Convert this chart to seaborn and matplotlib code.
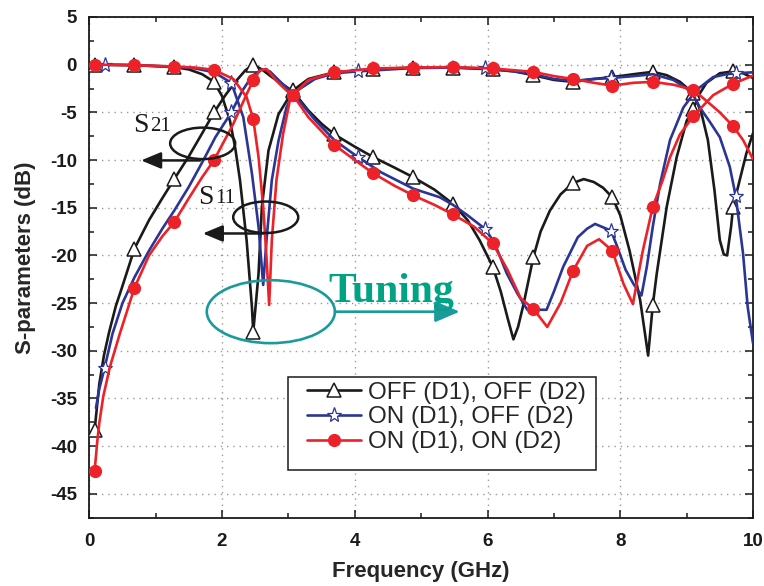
import matplotlib
matplotlib.use("Agg")
import matplotlib.pyplot as plt
import numpy as np
import pandas as pd
import seaborn as sns
from matplotlib.lines import Line2D
from matplotlib.patches import Ellipse, Rectangle
from matplotlib.ticker import MultipleLocator

# ---------------------------------------------------------------------------
# Data (frequency in GHz, level in dB)
# ---------------------------------------------------------------------------
states = ["OFF (D1), OFF (D2)", "ON (D1), OFF (D2)", "ON (D1), ON (D2)"]

# OFF (D1), OFF (D2)
off_off_s21_f = [0.08, 0.15, 0.22, 0.3, 0.4, 0.5, 0.68, 0.9, 1.1, 1.28, 1.5, 1.7, 1.88,
                 2.05, 2.2, 2.35, 2.47, 2.6, 2.75, 2.9, 3.07, 3.3, 3.5, 3.69, 4.0, 4.28,
                 4.6, 4.88, 5.2, 5.48, 5.7, 5.88, 6.08, 6.2, 6.3, 6.39, 6.46, 6.54, 6.69,
                 6.8, 6.94, 7.1, 7.29, 7.45, 7.6, 7.74, 7.88, 8.0, 8.14, 8.3, 8.42, 8.49,
                 8.55, 8.7, 8.85, 9.0, 9.1, 9.2, 9.3, 9.5, 9.7, 9.85, 10.0]
off_off_s21 = [-38.3, -33.5, -30.5, -28.0, -25.3, -23.2, -19.3, -16.3, -14.0, -12.0, -9.6,
               -7.2, -5.0, -3.2, -1.8, -0.6, 0.0, -0.5, -1.3, -2.0, -2.8, -4.8, -6.2, -7.3,
               -8.6, -9.7, -10.8, -11.8, -13.1, -14.6, -16.3, -18.4, -21.2, -23.8, -26.5,
               -28.8, -27.5, -25.2, -20.2, -17.5, -15.3, -13.6, -12.4, -12.0, -12.3, -12.9,
               -13.9, -15.8, -19.5, -24.7, -30.5, -25.2, -21.9, -14.9, -9.7, -5.9, -4.6,
               -3.0, -1.9, -0.9, -0.7, -0.9, -1.4]
off_off_s11_f = [0.08, 0.68, 1.28, 1.5, 1.7, 1.88, 2.0, 2.12, 2.2, 2.27, 2.37, 2.45, 2.47,
                 2.51, 2.55, 2.6, 2.7, 2.85, 3.07, 3.3, 3.69, 4.28, 4.88, 5.48, 6.08, 6.4,
                 6.69, 7.0, 7.29, 7.6, 7.88, 8.2, 8.49, 8.7, 8.9, 9.1, 9.22, 9.32, 9.42,
                 9.5, 9.56, 9.61, 9.67, 9.7, 9.8, 9.9, 10.0]
off_off_s11 = [0.0, -0.05, -0.25, -0.5, -1.0, -1.8, -3.3, -5.9, -8.8, -12.1, -18.4, -25.4,
               -28.0, -25.0, -21.9, -14.9, -9.0, -5.2, -2.7, -1.5, -0.8, -0.5, -0.3, -0.3,
               -0.5, -0.7, -1.1, -1.6, -1.8, -1.5, -1.3, -1.0, -0.75, -1.1, -1.8, -3.0,
               -5.0, -7.9, -13.2, -18.4, -19.9, -20.0, -17.0, -14.9, -12.1, -9.3, -7.2]

# ON (D1), OFF (D2)
on_off_s21_f = [0.1, 0.15, 0.23, 0.35, 0.5, 0.68, 0.9, 1.1, 1.28, 1.5, 1.72, 1.9, 2.14,
                2.3, 2.45, 2.6, 2.72, 2.85, 2.97, 3.07, 3.4, 3.69, 4.05, 4.4, 4.88, 5.28,
                5.48, 5.7, 5.96, 6.1, 6.29, 6.45, 6.6, 6.89, 7.0, 7.14, 7.36, 7.5, 7.62,
                7.86, 7.95, 8.08, 8.2, 8.32, 8.4, 8.49, 8.6, 8.75, 8.95, 9.14, 9.4, 9.6,
                9.74, 10.0]
on_off_s21 = [-36.0, -34.0, -31.8, -28.2, -25.0, -22.3, -19.5, -17.2, -15.3, -12.8, -10.0,
              -7.6, -5.0, -2.8, -1.2, -0.5, -0.7, -1.6, -2.4, -3.0, -5.8, -7.9, -9.7,
              -11.3, -13.0, -13.9, -14.7, -15.8, -17.2, -18.6, -21.9, -24.0, -25.7, -25.7,
              -23.8, -21.2, -18.1, -17.2, -16.7, -17.4, -19.0, -21.5, -23.0, -24.2, -21.2,
              -17.0, -12.5, -7.9, -4.5, -2.7, -1.3, -1.0, -0.9, -0.8]
on_off_s11_f = [0.08, 0.23, 0.68, 1.28, 1.6, 1.88, 2.14, 2.32, 2.45, 2.55, 2.62, 2.67, 2.75,
                2.85, 2.97, 3.07, 3.4, 3.69, 4.05, 4.88, 5.48, 5.96, 6.4, 6.69, 7.0, 7.29,
                7.6, 7.86, 8.2, 8.49, 8.8, 9.0, 9.1, 9.2, 9.35, 9.5, 9.65, 9.74, 9.85, 9.92,
                10.0]
on_off_s11 = [0.0, 0.0, -0.05, -0.2, -0.4, -0.8, -1.9, -5.5, -11.4, -17.0, -23.1, -18.4,
              -12.1, -8.0, -4.5, -3.0, -1.5, -0.9, -0.7, -0.35, -0.3, -0.4, -0.7, -1.0,
              -1.5, -1.7, -1.5, -1.4, -1.2, -1.0, -1.6, -2.5, -3.2, -4.5, -6.0, -7.6,
              -10.7, -13.8, -19.8, -25.4, -29.2]

# ON (D1), ON (D2)
on_on_s21_f = [0.08, 0.12, 0.15, 0.21, 0.31, 0.46, 0.68, 0.9, 1.1, 1.28, 1.5, 1.7, 1.88,
               2.17, 2.37, 2.47, 2.57, 2.67, 2.82, 2.97, 3.07, 3.3, 3.69, 4.0, 4.28, 4.6,
               4.88, 5.2, 5.48, 5.8, 6.08, 6.3, 6.5, 6.69, 6.9, 7.1, 7.29, 7.5, 7.68, 7.88,
               8.05, 8.19, 8.34, 8.49, 8.64, 8.75, 8.9, 9.1, 9.4, 9.7, 10.0]
on_on_s21 = [-42.6, -39.5, -37.6, -34.8, -31.7, -28.2, -23.4, -20.0, -18.0, -16.5, -14.0,
             -11.8, -10.0, -6.2, -3.1, -1.65, -0.6, -0.45, -1.7, -2.7, -3.2, -5.5, -8.4,
             -10.0, -11.4, -12.7, -13.7, -14.7, -15.7, -17.0, -18.75, -21.5, -24.5, -25.6,
             -27.5, -25.0, -21.6, -19.0, -18.3, -19.5, -23.0, -25.1, -19.5, -14.9, -12.1,
             -9.7, -7.3, -5.4, -3.2, -2.0, -1.15]
on_on_s11_f = [0.08, 0.68, 1.28, 1.6, 1.88, 2.17, 2.37, 2.47, 2.55, 2.62, 2.67, 2.71, 2.75,
               2.82, 2.92, 3.02, 3.07, 3.3, 3.69, 4.28, 4.88, 5.48, 6.08, 6.69, 7.0, 7.29,
               7.6, 7.88, 8.2, 8.49, 8.8, 9.1, 9.3, 9.5, 9.7, 9.85, 10.0]
on_on_s11 = [0.0, -0.05, -0.2, -0.3, -0.55, -1.5, -3.4, -5.7, -9.7, -14.9, -20.2, -25.2,
             -18.4, -12.1, -7.25, -3.8, -3.2, -1.6, -0.8, -0.4, -0.3, -0.25, -0.4, -0.75,
             -1.2, -1.5, -1.9, -2.2, -1.9, -1.8, -2.1, -2.65, -3.8, -5.0, -6.45, -7.9, -9.9]

# frequencies carrying a symbol on each trace
tri_marker_f = [0.08, 0.68, 1.28, 1.88, 2.47, 3.07, 3.69, 4.28, 4.88, 5.48, 6.08, 6.69,
                7.29, 7.88, 8.49, 9.1, 9.7]
star_marker_f = [0.23, 2.14, 4.05, 5.96, 7.86, 9.74]

# ---------------------------------------------------------------------------
# Long-form table
# ---------------------------------------------------------------------------
traces = [
    (states[0], "S21", off_off_s21_f, off_off_s21),
    (states[0], "S11", off_off_s11_f, off_off_s11),
    (states[1], "S21", on_off_s21_f, on_off_s21),
    (states[1], "S11", on_off_s11_f, on_off_s11),
    (states[2], "S21", on_on_s21_f, on_on_s21),
    (states[2], "S11", on_on_s11_f, on_on_s11),
]
df = pd.concat(
    [pd.DataFrame({"state": s, "param": p, "freq": f, "db": v}) for s, p, f, v in traces],
    ignore_index=True,
)

styles = {
    states[0]: dict(color="#1a1a1a", marker="^", ms=10, mfc="white", mew=1.1,
                    marks=tri_marker_f, z=3),
    states[1]: dict(color="#2b3595", marker="*", ms=11, mfc="white", mew=0.9,
                    marks=star_marker_f, z=4),
    states[2]: dict(color="#ec2228", marker="o", ms=8.5, mfc="#ec2228", mew=1.0,
                    marks=tri_marker_f, z=5),
}

# ---------------------------------------------------------------------------
# Plot
# ---------------------------------------------------------------------------
sns.set_style("ticks")
plt.rcParams["font.family"] = ["Liberation Sans", "DejaVu Sans"]
plt.rcParams["axes.unicode_minus"] = False

fig = plt.figure(figsize=(7.64, 5.86), dpi=100)
ax = fig.add_axes([0.1169, 0.1166, 0.8687, 0.8544])

for state in states:
    st = styles[state]
    for param in ["S21", "S11"]:
        d = df[(df["state"] == state) & (df["param"] == param)]
        sns.lineplot(data=d, x="freq", y="db", ax=ax, color=st["color"], lw=1.9,
                     sort=False, estimator=None, legend=False, zorder=st["z"])
        m = d[d["freq"].isin(st["marks"])]
        ax.plot(m["freq"], m["db"], ls="none", marker=st["marker"], ms=st["ms"],
                mfc=st["mfc"], mec=st["color"], mew=st["mew"], zorder=st["z"] + 0.5)

ax.set_xlim(0, 10)
ax.set_ylim(-47.5, 5)
ax.xaxis.set_major_locator(MultipleLocator(2))
ax.xaxis.set_minor_locator(MultipleLocator(1))
ax.yaxis.set_major_locator(MultipleLocator(5))
ax.yaxis.set_minor_locator(MultipleLocator(2.5))
ax.grid(True, which="major", linestyle=(0, (1, 3.5)), color="#9a9a9a", lw=1.0)
ax.tick_params(which="both", direction="in", top=True, right=True, width=1.1,
               labelsize=13.5, colors="#1a1a1a")
ax.tick_params(which="major", length=6)
ax.tick_params(which="minor", length=3.5)
ax.tick_params(axis="x", pad=11)
ax.tick_params(axis="y", pad=9)
for lbl in ax.get_xticklabels() + ax.get_yticklabels():
    lbl.set_fontweight("bold")
for sp in ax.spines.values():
    sp.set_linewidth(1.3)
    sp.set_color("#1a1a1a")

ax.set_xlabel("Frequency (GHz)", fontsize=16, fontweight="bold", labelpad=8)
ax.set_ylabel("S-parameters (dB)", fontsize=16, fontweight="bold")
ax.yaxis.set_label_coords(-0.080, 0.52)

# ---------------------------------------------------------------------------
# Annotations: S21 / S11 markers with ellipses, tuning arrow
# ---------------------------------------------------------------------------
serif = ["Liberation Serif", "DejaVu Serif"]
ax.text(0.663, -7.08, "S", fontsize=20, family=serif, va="baseline", color="#1a1a1a")
ax.text(0.914, -6.98, "21", fontsize=15, family=serif, va="baseline", color="#1a1a1a")
ax.text(1.642, -14.64, "S", fontsize=20, family=serif, va="baseline", color="#1a1a1a")
ax.text(1.893, -14.54, "11", fontsize=15, family=serif, va="baseline", color="#1a1a1a")

ax.add_patch(Ellipse((1.708, -8.25), 0.98, 3.3, fill=False, ec="#1a1a1a", lw=1.8, zorder=6))
ax.add_patch(Ellipse((2.658, -16.0), 0.98, 3.3, fill=False, ec="#1a1a1a", lw=1.8, zorder=6))
ax.annotate("", xy=(0.78, -10.04), xytext=(1.67, -10.04),
            arrowprops=dict(arrowstyle="-|>,head_length=0.6,head_width=0.25",
                            mutation_scale=20, lw=1.8, color="#1a1a1a",
                            shrinkA=0, shrinkB=0), zorder=6)
ax.annotate("", xy=(1.71, -17.7), xytext=(2.62, -17.7),
            arrowprops=dict(arrowstyle="-|>,head_length=0.6,head_width=0.25",
                            mutation_scale=20, lw=1.8, color="#1a1a1a",
                            shrinkA=0, shrinkB=0), zorder=6)

teal = "#1a9a9c"
ax.add_patch(Ellipse((2.735, -25.9), 1.93, 6.6, fill=False, ec=teal, lw=1.9, zorder=6))
ax.annotate("", xy=(5.58, -25.9), xytext=(3.70, -25.9),
            arrowprops=dict(arrowstyle="-|>,head_length=0.75,head_width=0.32",
                            mutation_scale=20, lw=1.9, color=teal,
                            shrinkA=0, shrinkB=0), zorder=6)
ax.text(3.6, -24.9, "Tuning", fontsize=30, fontweight="bold", family=serif,
        va="baseline", color="#00a383", zorder=7)

# ---------------------------------------------------------------------------
# Legend with a plain square frame
# ---------------------------------------------------------------------------
handles = [
    Line2D([], [], color=styles[s]["color"], lw=1.9, marker=styles[s]["marker"],
           ms=styles[s]["ms"], mfc=styles[s]["mfc"], mec=styles[s]["color"],
           mew=styles[s]["mew"])
    for s in states
]
ax.add_patch(Rectangle((0.2994, 0.0953), 0.4640, 0.1857, transform=ax.transAxes,
                       fc="white", ec="#1a1a1a", lw=1.1, zorder=8))
leg = ax.legend(handles, states, loc="upper left", bbox_to_anchor=(0.3276, 0.272),
                frameon=False, fontsize=17.5, handlelength=2.22, handletextpad=0.3,
                labelspacing=0.12, borderpad=0, borderaxespad=0)
leg.set_zorder(9)

fig.savefig("out.png", dpi=100)
